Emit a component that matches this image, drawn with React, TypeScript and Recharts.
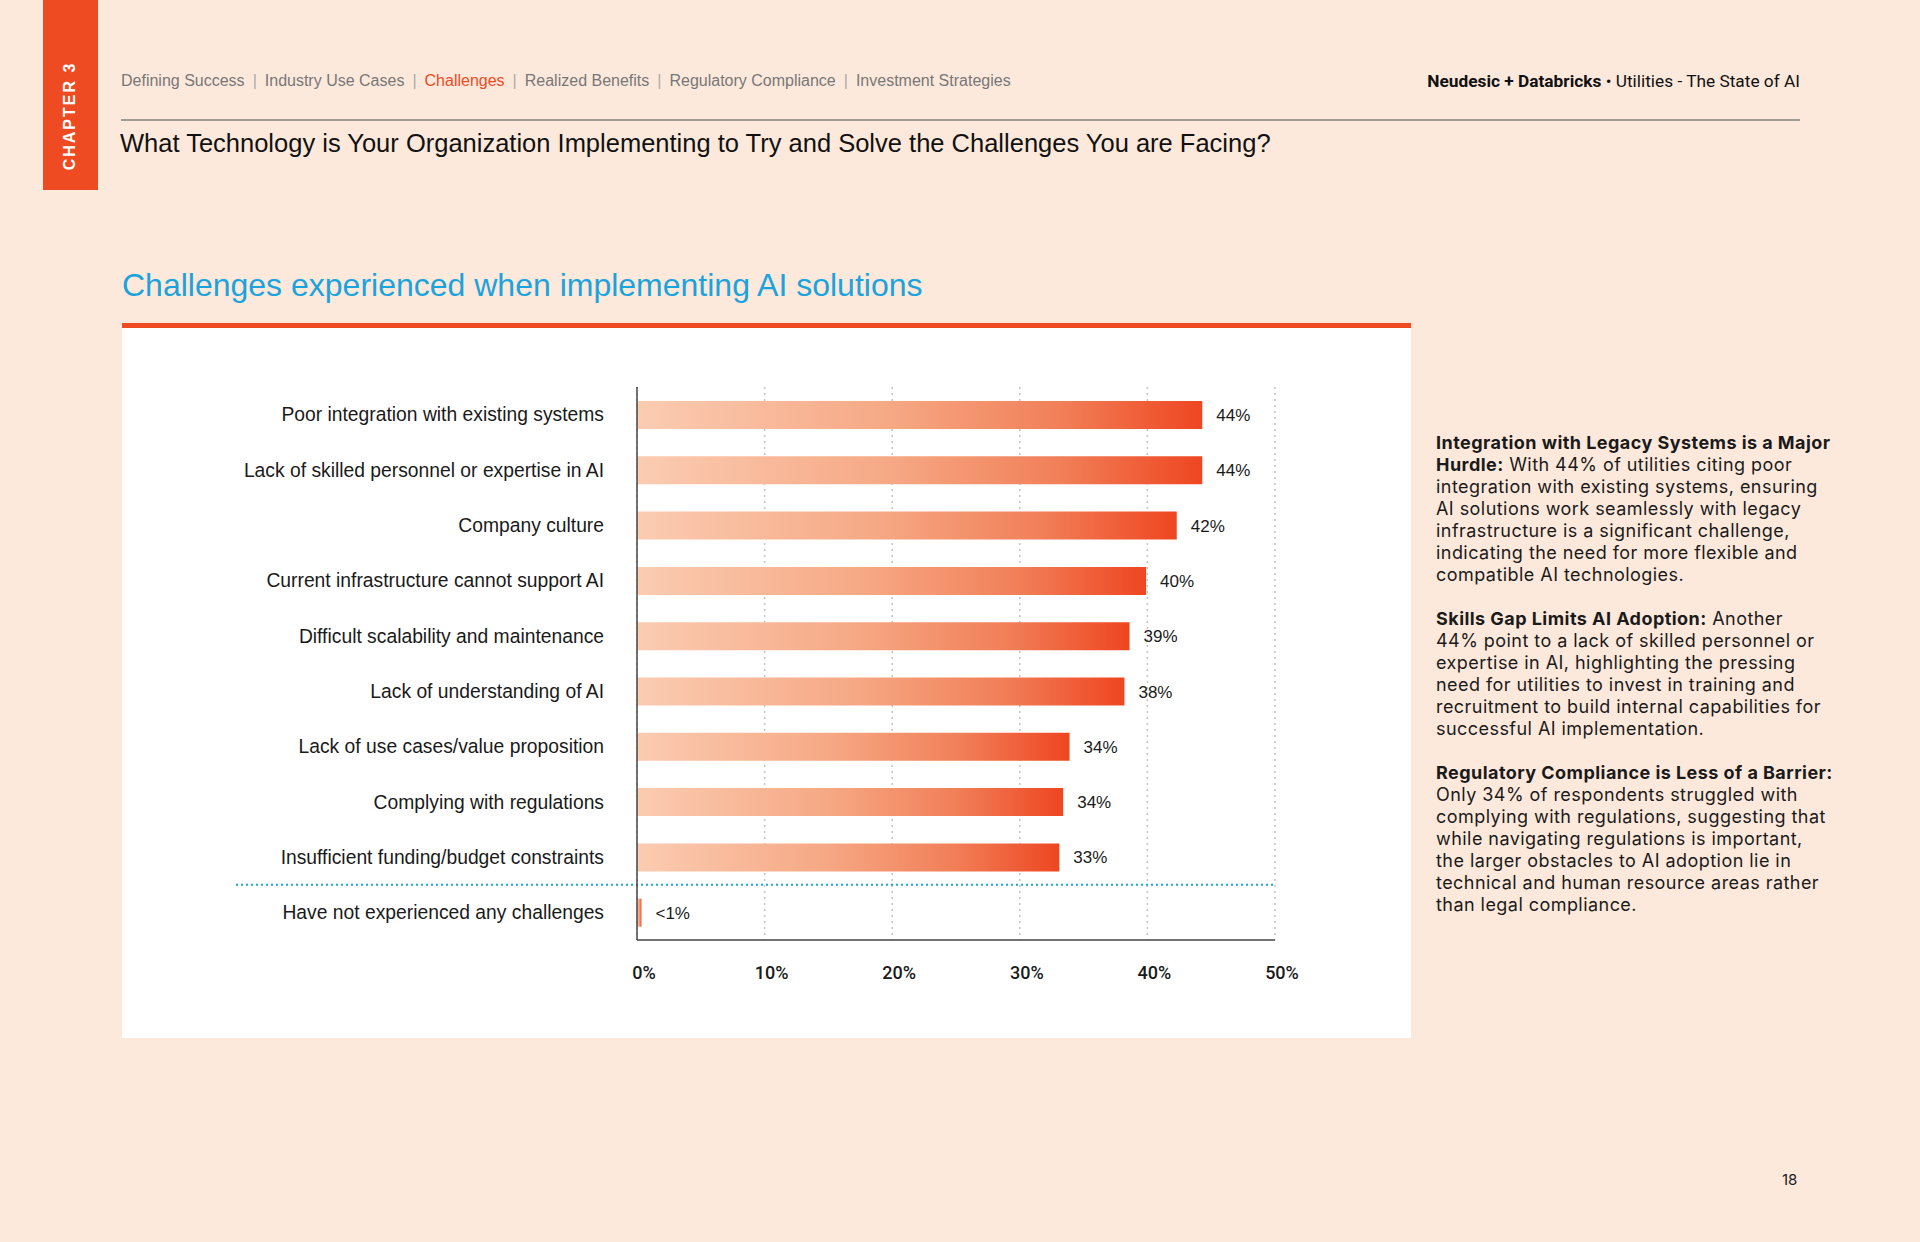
import React from "react";
import {
  BarChart,
  Bar,
  XAxis,
  YAxis,
  CartesianGrid,
  LabelList,
  ReferenceLine,
} from "recharts";

const categories = [
  "Poor integration with existing systems",
  "Lack of skilled personnel or expertise in AI",
  "Company culture",
  "Current infrastructure cannot support AI",
  "Difficult scalability and maintenance",
  "Lack of understanding of AI",
  "Lack of use cases/value proposition",
  "Complying with regulations",
  "Insufficient funding/budget constraints",
  "Have not experienced any challenges",
];

const values = [44.3, 44.3, 42.3, 39.9, 38.6, 38.2, 33.9, 33.4, 33.1, 0.35];

const valueLabels = ["44%", "44%", "42%", "40%", "39%", "38%", "34%", "34%", "33%", "<1%"];

const xTicks = [0, 10, 20, 30, 40, 50];

const navItems = [
  "Defining Success",
  "Industry Use Cases",
  "Challenges",
  "Realized Benefits",
  "Regulatory Compliance",
  "Investment Strategies",
];
const activeNav = "Challenges";

const data = categories.map((name, i) => ({
  name,
  value: values[i],
  label: valueLabels[i],
}));

const BG = "#fde9dc";
const ORANGE = "#ef4b23";
const BLUE = "#1aa3dc";
const CHART_FONT = "'Liberation Sans', Arial, sans-serif";

const YTick = (props: any) => {
  const { x, y, payload } = props;
  return (
    <text
      x={x}
      y={y}
      dy="0.35em"
      textAnchor="end"
      fontFamily={CHART_FONT}
      fontSize={19.3}
      fill="#1a1a1a"
    >
      {payload.value}
    </text>
  );
};

const XTick = (props: any) => {
  const { x, y, payload } = props;
  return (
    <text
      x={x + 7}
      y={y + 39}
      textAnchor="middle"
      fontFamily="Roboto, 'Liberation Sans', sans-serif"
      fontSize={18}
      fontWeight={500}
      fill="#1a1a1a"
    >
      {payload.value + "%"}
    </text>
  );
};

const DividerShape = (props: any) => {
  const { x1, y1, x2, y2 } = props;
  return (
    <line
      x1={x1 - 401}
      y1={y1}
      x2={x2}
      y2={y2}
      stroke={BLUE}
      strokeWidth={2}
      strokeDasharray="2 3"
    />
  );
};

const para = {
  margin: 0,
  marginBottom: 22,
};

export default function App() {
  return (
    <div
      style={{
        position: "absolute",
        left: 0,
        top: 0,
        width: 1920,
        height: 1242,
        background: BG,
        fontFamily: "'Liberation Sans', Arial, sans-serif",
        overflow: "hidden",
      }}
    >
      {/* Chapter tab */}
      <div
        style={{
          position: "absolute",
          left: 43,
          top: 0,
          width: 55,
          height: 190,
          background: ORANGE,
        }}
      />
      <div
        style={{
          position: "absolute",
          left: 70,
          top: 116,
          transform: "translate(-50%, -50%) rotate(-90deg)",
          color: "#fff",
          fontFamily: "'Liberation Sans', Arial, sans-serif",
          fontSize: 16,
          fontWeight: 600,
          letterSpacing: 2,
          whiteSpace: "nowrap",
        }}
      >
        CHAPTER 3
      </div>

      {/* Nav */}
      <div
        style={{
          position: "absolute",
          left: 121,
          top: 72,
          fontFamily: "'Liberation Sans Narrow', 'Liberation Sans', Arial, sans-serif",
          fontSize: 16,
          color: "#777",
          whiteSpace: "nowrap",
        }}
      >
        {navItems.map((n, i) => (
          <span key={n}>
            {i > 0 && <span style={{ color: "#aaa", margin: "0 8px" }}>|</span>}
            <span style={{ color: n === activeNav ? ORANGE : "#777" }}>{n}</span>
          </span>
        ))}
      </div>

      <div
        style={{
          position: "absolute",
          right: 120,
          top: 71,
          fontFamily: "Roboto, 'Liberation Sans', sans-serif",
          fontSize: 17.3,
          color: "#111",
          whiteSpace: "nowrap",
        }}
      >
        <b>Neudesic + Databricks</b> • Utilities - The State of AI
      </div>

      <div
        style={{
          position: "absolute",
          left: 121,
          top: 119,
          width: 1679,
          height: 2,
          background: "#a19a92",
        }}
      />

      <div
        style={{
          position: "absolute",
          left: 120,
          top: 129,
          fontSize: 25.5,
          fontWeight: 500,
          color: "#111",
          whiteSpace: "nowrap",
        }}
      >
        What Technology is Your Organization Implementing to Try and Solve the Challenges You are Facing?
      </div>

      {/* Chart title */}
      <div
        style={{
          position: "absolute",
          left: 122,
          top: 267,
          fontSize: 32,
          color: BLUE,
          whiteSpace: "nowrap",
        }}
      >
        Challenges experienced when implementing AI solutions
      </div>

      <div
        style={{
          position: "absolute",
          left: 122,
          top: 323,
          width: 1289,
          height: 5,
          background: ORANGE,
        }}
      />

      <div
        style={{
          position: "absolute",
          left: 122,
          top: 328,
          width: 1289,
          height: 710,
          background: "#ffffff",
        }}
      >
        <BarChart
          width={1289}
          height={710}
          data={data}
          layout="vertical"
          margin={{ top: 59, right: 136, bottom: 58, left: 0 }}
          barSize={28}
        >
          <defs>
            <linearGradient id="barGrad" x1="0" y1="0" x2="1" y2="0">
              <stop offset="0%" stopColor="#fbccb2" />
              <stop offset="45%" stopColor="#f6a884" />
              <stop offset="75%" stopColor="#f17f58" />
              <stop offset="100%" stopColor="#ee4621" />
            </linearGradient>
          </defs>
          <CartesianGrid
            horizontal={false}
            vertical={true}
            stroke="#c4c4c4"
            strokeWidth={1.5}
            strokeDasharray="2 4"
          />
          <XAxis
            type="number"
            domain={[0, 50]}
            ticks={xTicks}
            tick={<XTick />}
            tickLine={false}
            tickSize={0}
            tickMargin={0}
            axisLine={{ stroke: "#444", strokeWidth: 1.5 }}
            height={40}
          />
          <YAxis
            type="category"
            dataKey="name"
            width={515}
            tick={<YTick />}
            tickLine={false}
            tickSize={0}
            tickMargin={33}
            axisLine={{ stroke: "#444", strokeWidth: 1.5 }}
            interval={0}
          />
          <Bar
            dataKey="value"
            fill="url(#barGrad)"
            isAnimationActive={false}
          >
            <LabelList
              dataKey="label"
              position="right"
              offset={14}
              fontFamily={CHART_FONT}
              fontSize={17}
              fill="#1a1a1a"
            />
          </Bar>
          <ReferenceLine
            y={categories[9]}
            position="start"
            ifOverflow="visible"
            shape={<DividerShape />}
          />
        </BarChart>
      </div>

      {/* Commentary */}
      <div
        style={{
          position: "absolute",
          left: 1436,
          top: 432,
          fontFamily: "Inter, 'Noto Sans', sans-serif",
          fontSize: 18,
          letterSpacing: 0.45,
          lineHeight: "22px",
          color: "#1a1a1a",
          whiteSpace: "nowrap",
        }}
      >
        <p style={para}>
          <b>Integration with Legacy Systems is a Major</b>
          <br />
          <b>Hurdle:</b> With 44% of utilities citing poor
          <br />
          integration with existing systems, ensuring
          <br />
          AI solutions work seamlessly with legacy
          <br />
          infrastructure is a significant challenge,
          <br />
          indicating the need for more flexible and
          <br />
          compatible AI technologies.
        </p>
        <p style={para}>
          <b>Skills Gap Limits AI Adoption:</b> Another
          <br />
          44% point to a lack of skilled personnel or
          <br />
          expertise in AI, highlighting the pressing
          <br />
          need for utilities to invest in training and
          <br />
          recruitment to build internal capabilities for
          <br />
          successful AI implementation.
        </p>
        <p style={para}>
          <b>Regulatory Compliance is Less of a Barrier:</b>
          <br />
          Only 34% of respondents struggled with
          <br />
          complying with regulations, suggesting that
          <br />
          while navigating regulations is important,
          <br />
          the larger obstacles to AI adoption lie in
          <br />
          technical and human resource areas rather
          <br />
          than legal compliance.
        </p>
      </div>

      <div
        style={{
          position: "absolute",
          left: 1782,
          top: 1170,
          fontFamily: "Inter, sans-serif",
          fontSize: 15,
          color: "#1a1a1a",
        }}
      >
        18
      </div>
    </div>
  );
}
